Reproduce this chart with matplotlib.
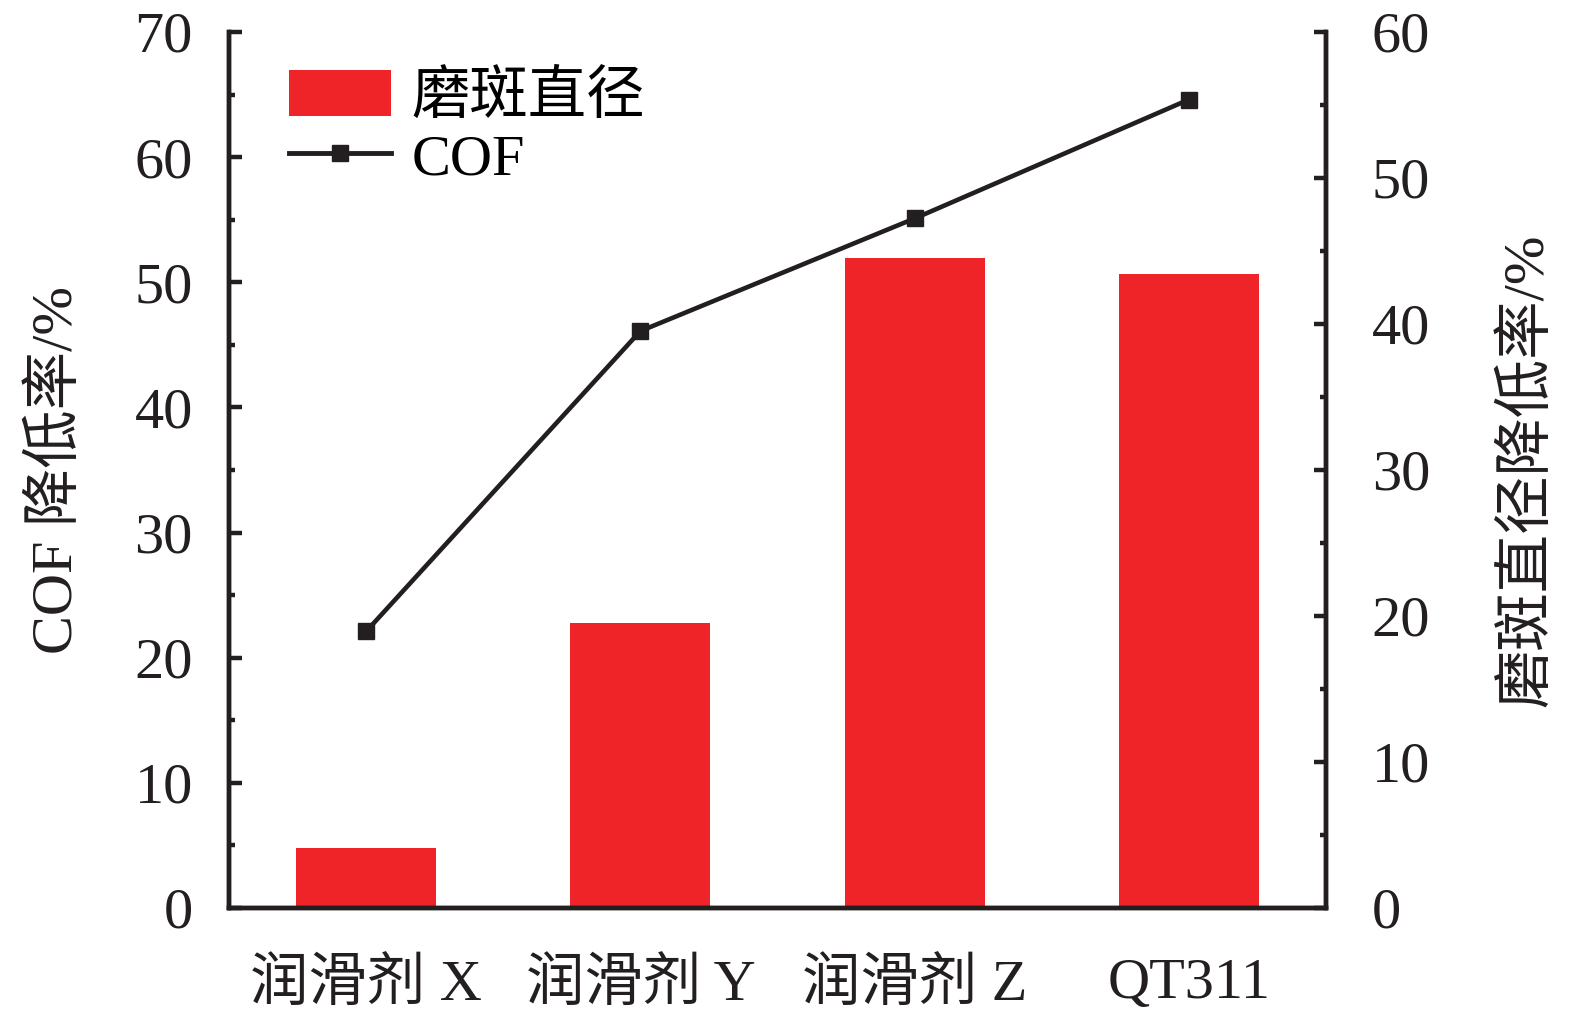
import matplotlib
matplotlib.use("Agg")
import matplotlib.pyplot as plt
from matplotlib.ticker import MultipleLocator
from matplotlib.patches import Patch
from matplotlib.lines import Line2D

categories = ["润滑剂 X", "润滑剂 Y", "润滑剂 Z", "QT311"]
wear_scar = [4.1, 19.5, 44.5, 43.4]   # right axis, bars
cof = [22.1, 46.1, 55.1, 64.6]        # left axis, line

plt.rcParams['font.family'] = ['Liberation Serif', 'Noto Sans CJK SC']
FS = 42

RED = '#ee2429'
DARK = '#231f20'

fig = plt.figure(figsize=(15.75, 10.23), dpi=100)
ax = fig.add_axes([229/1575, 1-908/1023, (1326-229)/1575, (908-32)/1023])
ax2 = ax.twinx()

x = list(range(len(categories)))
ax2.bar(x, wear_scar, width=0.51, color=RED, zorder=1)
ax.plot(x, cof, color=DARK, lw=3.3, marker='s', ms=12, zorder=3)

ax.set_zorder(ax2.get_zorder() + 1)
ax.patch.set_visible(False)

ax.set_xlim(-0.5, 3.5)
ax.set_ylim(0, 70)
ax2.set_ylim(0, 60)
ax.yaxis.set_major_locator(MultipleLocator(10))
ax.yaxis.set_minor_locator(MultipleLocator(5))
ax2.yaxis.set_major_locator(MultipleLocator(10))
ax2.yaxis.set_minor_locator(MultipleLocator(5))
ax.set_xticks(x)
ax.set_xticklabels(categories)

for a in (ax, ax2):
    a.spines['top'].set_visible(False)
    for s in ('left', 'right', 'bottom'):
        a.spines[s].set_linewidth(3.2)
        a.spines[s].set_color(DARK)
    a.tick_params(axis='y', which='major', direction='in', length=9, width=3.2, labelsize=FS, colors=DARK, pad=26)
    a.tick_params(axis='y', which='minor', direction='in', length=4, width=3.2, colors=DARK)
    a.tick_params(axis='x', length=0, labelsize=FS, pad=36, colors=DARK)
ax2.tick_params(axis='y', which='major', pad=33)

ax.set_ylabel("COF 降低率/%", fontsize=FS, color=DARK, labelpad=36)
ax2.set_ylabel("磨斑直径降低率/%", fontsize=FS, color=DARK, labelpad=50)

handles = [Patch(facecolor=RED, edgecolor='none'),
           Line2D([0], [0], color=DARK, lw=3.5, marker='s', ms=12)]
ax.legend(handles, ["磨斑直径", "COF"], loc='upper left', bbox_to_anchor=(0.055, 0.957),
          frameon=False, fontsize=FS, handlelength=1.75, handleheight=0.85,
          handletextpad=0.35, labelspacing=0.1, borderaxespad=0, borderpad=0)

fig.savefig("out.png", dpi=100)
